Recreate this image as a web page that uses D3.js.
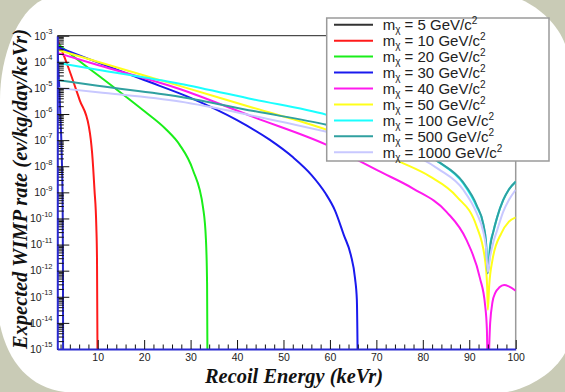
<!DOCTYPE html>
<html>
<head>
<meta charset="utf-8">
<script src="https://cdn.jsdelivr.net/npm/d3@7"></script>
<style>
  html, body { margin: 0; padding: 0; background: #ffffff; }
  svg { display: block; }
</style>
</head>
<body>
<svg id="chart" width="565" height="392"></svg>
<script>
// WIMP masses (GeV/c^2) and line colours, one per spectrum
const masses = [5, 10, 20, 30, 40, 50, 100, 500, 1000];
const lineColors = ["#2626c8", "#ff1a1a", "#1aee1a", "#1a1aee", "#ff1aee", "#ffff1a", "#1affff", "#30a0a0", "#c8c8ff"];
const legendColors = ["#333333", "#ff1a1a", "#1aee1a", "#1a1aee", "#ff1aee", "#ffff1a", "#1affff", "#30a0a0", "#c8c8ff"];

// Recoil energies (keVr) and expected rates (ev/kg/day/keVr) for each mass
const energy5 = [1.3, 1.6, 2.0, 2.3, 2.45, 2.52, 2.55];
const rate5   = [5.2e-4, 3.2e-5, 6.3e-7, 1.3e-8, 3.2e-10, 1e-12, 1e-15];

const energy10 = [1.3, 2.4, 3.6, 6.1, 8.1, 8.5, 8.8, 9.3, 9.7, 9.85, 9.95];
const rate10   = [7.1e-4, 2.4e-4, 6.6e-5, 3.5e-6, 3.3e-7, 1.1e-7, 3.2e-8, 1.3e-9, 5e-11, 2.5e-12, 1e-15];

const energy20 = [1.3, 5, 14, 20, 24.8, 27.65, 30.5, 32.7, 33.3, 33.55, 33.62];
const rate20   = [5.0e-4, 1.5e-4, 8.9e-6, 1.3e-6, 2.5e-7, 6.6e-8, 7.2e-9, 2.5e-10, 1.6e-11, 3.2e-13, 1e-15];

const energy30 = [1.3, 10, 20, 30, 40, 47, 52, 56, 59, 61.1, 63.0, 64.5, 65.4, 65.8, 65.95];
const rate30   = [3.7e-4, 9.5e-5, 2.0e-5, 4.15e-6, 5.8e-7, 1.04e-7, 2.24e-8, 4.7e-9, 9.4e-10, 2.0e-10, 2.3e-11, 4.0e-12, 5.2e-13, 7.6e-14, 1e-15];

const energy40 = [1.3, 10, 27.65, 43.6, 59.3, 70.7, 77.9, 85.1, 89.4, 92.3, 93.4, 93.8, 94.0, 94.5, 95.0, 95.6, 96.5, 97.5, 98.5, 100];
const rate40   = [2.2e-4, 7.6e-5, 9.1e-6, 7.6e-7, 6.6e-8, 6.3e-9, 1.4e-9, 1.8e-10, 1.5e-11, 5.2e-13, 5.0e-14, 5.4e-15, 1e-16, 1e-14, 6.3e-14, 1.4e-13, 2.3e-13, 2.8e-13, 2.5e-13, 1.7e-13];

const energy50 = [1.3, 10, 27.65, 43.6, 59.3, 75, 81.5, 87.3, 91.6, 93.4, 93.85, 94.0, 94.3, 95.0, 96.9, 98.5, 100];
const rate50   = [2.9e-4, 1e-4, 1.2e-5, 1.7e-6, 2.5e-7, 1.5e-8, 4.1e-9, 6.9e-10, 4.9e-11, 2.6e-12, 2.5e-13, 3.2e-14, 2.8e-13, 2.6e-12, 2.7e-11, 7.4e-11, 1.1e-10];

const energy100 = [1.3, 10, 27.65, 43.6, 59.3, 75, 83.3, 88.7, 91.6, 93.0, 93.6, 94.0, 94.5, 95.2, 96.0, 97.3, 98.5, 100];
const rate100   = [9.1e-5, 5.0e-5, 1.45e-5, 3.6e-6, 9.3e-7, 1.0e-7, 1.5e-8, 2.2e-9, 2.8e-10, 6.3e-11, 1.26e-11, 1e-12, 1e-11, 3.2e-11, 1.1e-10, 5.0e-10, 1.26e-9, 2.5e-9];

const energy500 = [1.3, 10, 27.65, 43.6, 59.3, 75, 83.3, 88.7, 91.6, 93.0, 93.6, 94.0, 94.5, 95.2, 96.0, 97.3, 98.5, 100];
const rate500   = [2.0e-5, 1.2e-5, 4.6e-6, 1.3e-6, 3.9e-7, 7.9e-8, 1.5e-8, 2.4e-9, 3.2e-10, 6.3e-11, 1.26e-11, 7.9e-13, 7.9e-12, 3.2e-11, 1.1e-10, 5.0e-10, 1.26e-9, 2.6e-9];

const energy1000 = [1.3, 10, 27.65, 43.6, 59.3, 75, 83.3, 88.7, 91.6, 93.0, 93.6, 94.0, 94.5, 95.2, 96.0, 97.3, 98.5, 100];
const rate1000   = [1.0e-5, 6.8e-6, 3.0e-6, 8.5e-7, 2.1e-7, 4.7e-8, 7.9e-9, 1.26e-9, 1.6e-10, 3.2e-11, 7.9e-12, 8.9e-13, 3.5e-12, 1.26e-11, 3.5e-11, 1.8e-10, 5.0e-10, 1.26e-9];

const energies = [energy5, energy10, energy20, energy30, energy40, energy50, energy100, energy500, energy1000];
const rates = [rate5, rate10, rate20, rate30, rate40, rate50, rate100, rate500, rate1000];

// Axis ticks
const xMajorTicks = [10, 20, 30, 40, 50, 60, 70, 80, 90, 100];
const xMinorTicks = d3.range(2, 100, 2).filter(v => v % 10 !== 0);
const yExponents = [-3, -4, -5, -6, -7, -8, -9, -10, -11, -12, -13, -14, -15];

const svg = d3.select("#chart");
const W = 565, H = 392;

// Slide-style backdrop with rounded white panel
svg.append("rect").attr("width", W).attr("height", H).attr("fill", "#c9cbb6");
svg.append("path")
  .attr("d", "M42,0 L522,0 C540,8 558,25 565,44 L565,353 C555,372 530,388 507,392 L65,392 C30,388 8,362 0,325 L0,100 C0,55 18,12 42,0 Z")
  .attr("fill", "#ffffff");

const plot = { left: 57.3, right: 515.7, top: 35.7, bottom: 349 };

const x = d3.scaleLinear().domain([1.3, 100]).range([plot.left, plot.right]);
const y = d3.scaleLog().domain([1e-15, 1e-3]).range([plot.bottom, plot.top]);

svg.append("defs").append("clipPath").attr("id", "plotClip")
  .append("rect")
  .attr("x", plot.left).attr("y", plot.top)
  .attr("width", plot.right - plot.left).attr("height", plot.bottom - plot.top);

// Frame: top and right edges
svg.append("line")
  .attr("x1", plot.left).attr("x2", plot.right)
  .attr("y1", plot.top).attr("y2", plot.top)
  .attr("stroke", "#222").attr("stroke-width", 1);
svg.append("line")
  .attr("x1", plot.right).attr("x2", plot.right)
  .attr("y1", plot.top).attr("y2", plot.bottom)
  .attr("stroke", "#9a9a9a").attr("stroke-width", 1.5);

// Spectra
const line = d3.line()
  .x(d => x(d[0]))
  .y(d => y(d[1]))
  .curve(d3.curveMonotoneX);

const curves = svg.append("g").attr("clip-path", "url(#plotClip)");
masses.forEach((m, i) => {
  const pts = energies[i].map((e, k) => [e, rates[i][k]]);
  curves.append("path")
    .datum(pts)
    .attr("d", line)
    .attr("fill", "none")
    .attr("stroke", lineColors[i])
    .attr("stroke-width", 2)
    .attr("stroke-linejoin", "round");
});

// Y axis: decade ticks, log minor ticks and labels
const yMinor = [];
yExponents.slice(1).forEach(p => {
  for (let k = 2; k <= 9; k++) yMinor.push(k * Math.pow(10, p));
});
const yMajor = yExponents.map(p => Math.pow(10, p));

const yAxisMinor = svg.append("g")
  .attr("transform", `translate(${plot.left},0)`)
  .call(d3.axisLeft(y).tickValues(yMinor).tickSize(-6.5).tickSizeOuter(0).tickFormat(""));
yAxisMinor.select(".domain").remove();
yAxisMinor.selectAll(".tick line").attr("stroke", "#111");

const yAxisMajor = svg.append("g")
  .attr("transform", `translate(${plot.left},0)`)
  .call(d3.axisLeft(y).tickValues(yMajor).tickSize(-12).tickSizeOuter(0).tickFormat(""));
yAxisMajor.select(".domain").attr("stroke", "#2a2ad0").attr("stroke-width", 2);
yAxisMajor.selectAll(".tick line").attr("stroke", "#111");

const yLabels = svg.append("g")
  .attr("font-family", "'Liberation Sans', Arial, Helvetica, sans-serif")
  .attr("fill", "#222");
yExponents.forEach(p => {
  const t = yLabels.append("text")
    .attr("x", 52.5)
    .attr("y", y(Math.pow(10, p)) + 3.8)
    .attr("text-anchor", "end")
    .attr("font-size", 10.5);
  t.append("tspan").text("10");
  t.append("tspan").attr("dy", -5.5).attr("font-size", 7.5).text(String(p));
});

// X axis: minor and major ticks pointing inward
const xAxisMinor = svg.append("g")
  .attr("transform", `translate(0,${plot.bottom})`)
  .call(d3.axisBottom(x).tickValues(xMinorTicks).tickSize(-4.5).tickSizeOuter(0).tickFormat(""));
xAxisMinor.select(".domain").remove();
xAxisMinor.selectAll(".tick line").attr("stroke", "#111");

const xAxisMajor = svg.append("g")
  .attr("transform", `translate(0,${plot.bottom})`)
  .call(d3.axisBottom(x).tickValues(xMajorTicks).tickSize(-9).tickSizeOuter(0).tickPadding(4.5).tickFormat(d3.format("d")));
xAxisMajor.select(".domain").attr("stroke", "#2a2ad0").attr("stroke-width", 2);
xAxisMajor.selectAll(".tick line").attr("stroke", "#111");
xAxisMajor.selectAll(".tick text")
  .attr("font-family", "'Liberation Sans', Arial, Helvetica, sans-serif")
  .attr("font-size", 10.5)
  .attr("fill", "#222");

// Axis titles
svg.append("text")
  .attr("x", 294).attr("y", 383)
  .attr("text-anchor", "middle")
  .attr("font-family", "'Liberation Serif', 'Times New Roman', serif")
  .attr("font-weight", "bold").attr("font-style", "italic")
  .attr("font-size", 21)
  .attr("textLength", 178).attr("lengthAdjust", "spacingAndGlyphs")
  .attr("fill", "#111")
  .text("Recoil Energy (keVr)");

svg.append("text")
  .attr("transform", "translate(26.5,189) rotate(-90)")
  .attr("text-anchor", "middle")
  .attr("font-family", "'Liberation Serif', 'Times New Roman', serif")
  .attr("font-weight", "bold").attr("font-style", "italic")
  .attr("font-size", 21)
  .attr("textLength", 320).attr("lengthAdjust", "spacingAndGlyphs")
  .attr("fill", "#111")
  .text("Expected WIMP rate (ev/kg/day/keVr)");

// Legend
const legend = svg.append("g");
legend.append("rect")
  .attr("x", 326.7).attr("y", 18)
  .attr("width", 222.3).attr("height", 143)
  .attr("fill", "#ffffff")
  .attr("stroke", "#9a9a9a").attr("stroke-width", 1.5);

masses.forEach((m, i) => {
  const cy = 24.7 + i * 15.95;
  legend.append("line")
    .attr("x1", 334).attr("x2", 373)
    .attr("y1", cy).attr("y2", cy)
    .attr("stroke", legendColors[i]).attr("stroke-width", 2);
  const t = legend.append("text")
    .attr("x", 382.7).attr("y", cy + 5.2)
    .attr("font-family", "'Liberation Sans', Arial, Helvetica, sans-serif")
    .attr("font-size", 15)
    .attr("fill", "#222");
  t.append("tspan").text("m");
  t.append("tspan").attr("dy", 3.5).attr("font-size", 10).text("χ");
  t.append("tspan").attr("dy", -3.5).text(` = ${m} GeV/c`);
  t.append("tspan").attr("dy", -6).attr("font-size", 10).text("2");
});
</script>
</body>
</html>
